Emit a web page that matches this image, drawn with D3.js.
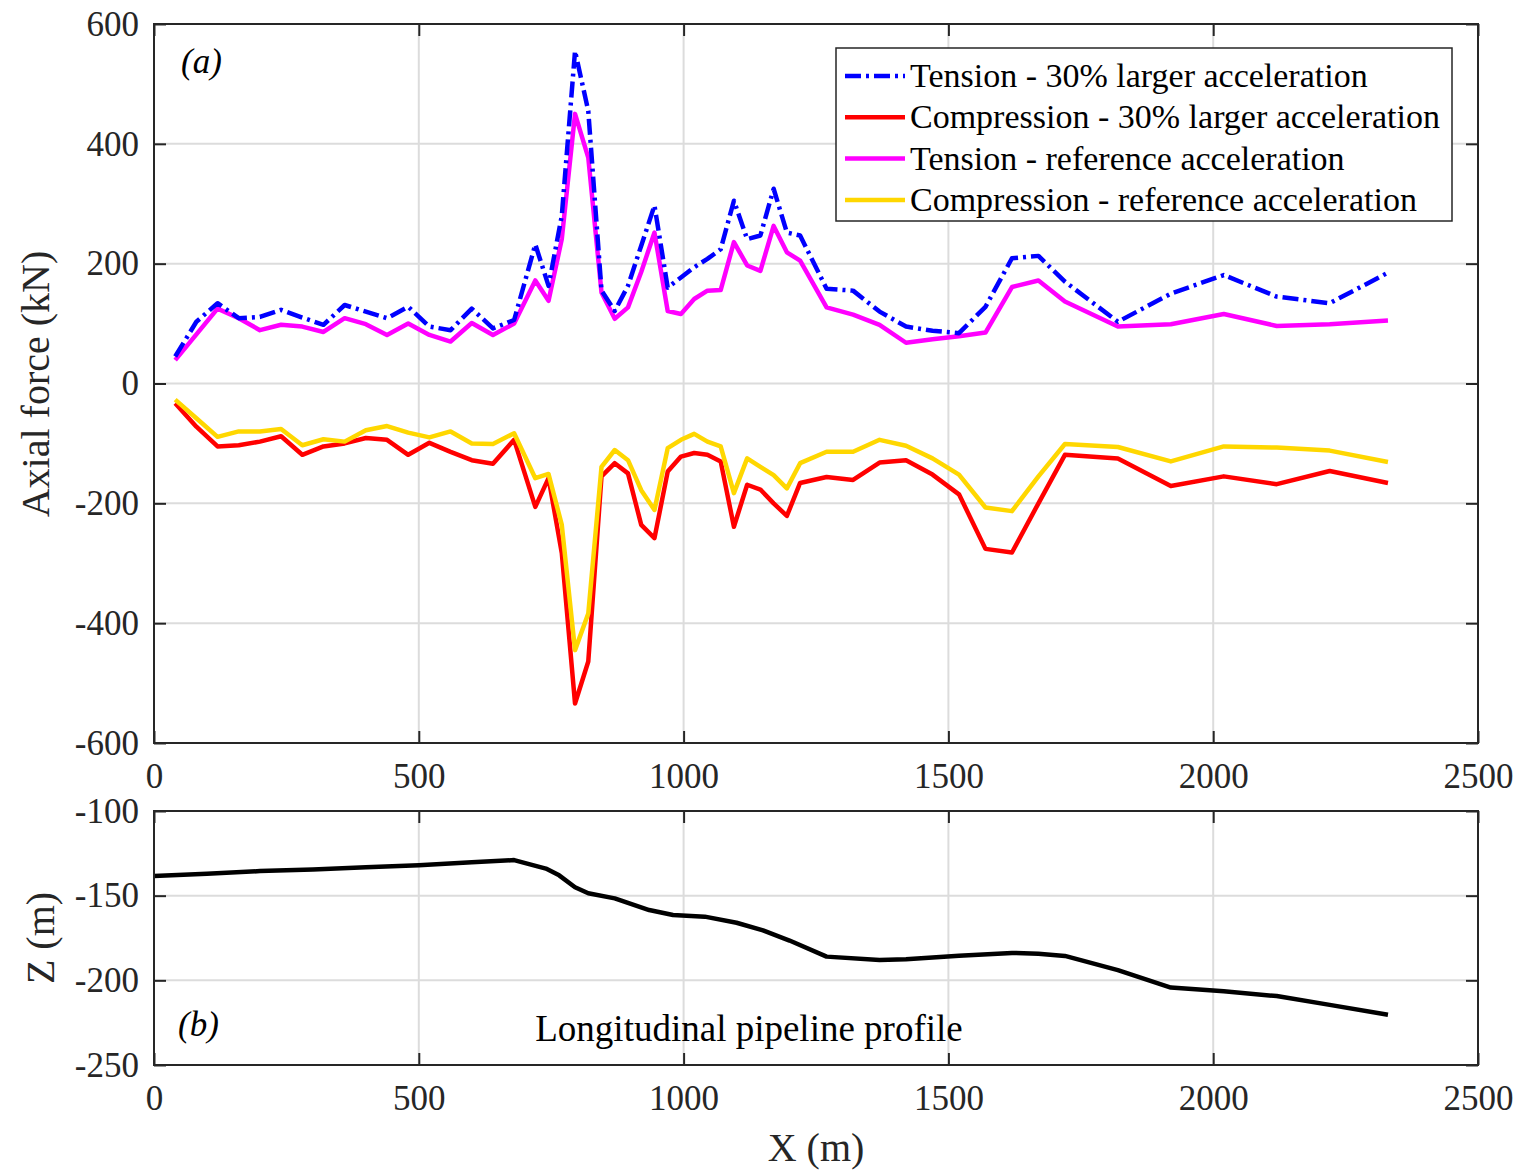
<!DOCTYPE html>
<html><head><meta charset="utf-8">
<script src="https://cdn.jsdelivr.net/npm/d3@7"></script>
<style>body{margin:0;background:#fff;} svg{display:block;font-family:"Liberation Serif","Times New Roman",serif;}</style>
</head><body>
<svg id="c" width="1525" height="1173"></svg>
<script>
// ---- Data (a): axial force along pipeline ----
const xA = [40,80,120,160,200,240,280,320,360,400,440,480,520,560,600,640,680,720,745,770,795,820,845,870,895,920,945,970,995,1020,1045,1070,1095,1120,1145,1170,1195,1220,1270,1320,1370,1420,1470,1520,1570,1620,1670,1720,1820,1920,2020,2120,2220,2330];
const tension30 = [45,103,134,109,111,123,110,98,131,120,109,128,95,89,125,92,106,232,163,280,555,455,155,121,163,230,297,160,177,194,208,224,305,241,247,325,252,247,158,155,120,95,88,84,128,209,213,170,103,150,181,145,134,185];
const compression30 = [-33,-72,-105,-103,-97,-88,-119,-105,-100,-91,-94,-119,-99,-114,-128,-134,-94,-206,-158,-283,-534,-464,-155,-133,-150,-236,-258,-147,-122,-116,-119,-130,-239,-169,-177,-200,-221,-166,-156,-161,-132,-128,-152,-185,-276,-282,-200,-119,-125,-171,-155,-168,-146,-166];
const tensionRef = [39,82,125,109,89,98,95,86,109,99,81,100,81,70,101,81,100,172,138,241,450,377,152,108,127,186,252,121,116,141,155,156,236,197,188,263,219,205,127,115,98,68,74,79,85,161,172,137,95,99,116,96,99,105];
const compressionRef = [-27,-58,-89,-80,-80,-76,-103,-93,-97,-78,-71,-82,-90,-80,-100,-101,-83,-158,-151,-236,-445,-384,-139,-111,-128,-178,-211,-108,-94,-84,-97,-105,-183,-125,-139,-153,-175,-133,-114,-114,-94,-104,-125,-152,-207,-213,-155,-101,-106,-130,-105,-107,-112,-131];
// ---- Data (b): longitudinal profile ----
const xB = [0,100,200,300,400,500,600,680,740,765,795,820,870,935,980,1040,1100,1150,1200,1270,1370,1420,1520,1620,1670,1720,1820,1920,2020,2120,2220,2330];
const zB = [-138.4,-137,-135.5,-134.5,-133.2,-132,-130.2,-129,-134,-138,-145,-148.6,-151.6,-158.5,-161.4,-162.4,-166,-170.5,-176.5,-186,-188,-187.6,-185.5,-183.8,-184.3,-185.6,-194,-204.3,-206.5,-209.3,-214.5,-220.3];
// ---- Ticks & labels ----
const xTicks = [0,500,1000,1500,2000,2500];
const yTicksA = [-600,-400,-200,0,200,400,600];
const yTicksB = [-250,-200,-150,-100];
const seriesNames = ["Tension - 30% larger acceleration","Compression - 30% larger acceleration","Tension - reference acceleration","Compression - reference acceleration"];
const seriesColors = ["#0000ff","#ff0000","#ff00ff","#ffd700"];

const svg = d3.select("#c");
const L = 154, R = 1478;
const x = d3.scaleLinear().domain([0,2500]).range([L,R]);
const yA = d3.scaleLinear().domain([-600,600]).range([743,24]);
const yB = d3.scaleLinear().domain([-250,-100]).range([1065,811]);
const FS = 35;
const fmt = d => String(d);

function panel(y, yTicks, top, bottom) {
  const g = svg.append("g");
  g.selectAll(".gx").data(xTicks).enter().append("line")
    .attr("x1", d=>x(d)).attr("x2", d=>x(d)).attr("y1", top).attr("y2", bottom)
    .attr("stroke", "#dcdcdc").attr("stroke-width", 2);
  g.selectAll(".gy").data(yTicks).enter().append("line")
    .attr("x1", L).attr("x2", R).attr("y1", d=>y(d)).attr("y2", d=>y(d))
    .attr("stroke", "#dcdcdc").attr("stroke-width", 2);
  return g;
}
function frame(y, yTicks, top, bottom) {
  const g = svg.append("g");
  const ax = (sel) => sel.call(s=>s.select(".domain").remove()).call(s=>s.selectAll("line").attr("stroke","#262626").attr("stroke-width",2));
  g.append("g").attr("transform",`translate(0,${bottom})`).call(d3.axisBottom(x).tickValues(xTicks).tickSize(-12).tickPadding(20).tickFormat(fmt)).call(ax);
  g.append("g").attr("transform",`translate(0,${top})`).call(d3.axisTop(x).tickValues(xTicks).tickSize(-12).tickFormat("")).call(ax);
  g.append("g").attr("transform",`translate(${L},0)`).call(d3.axisLeft(y).tickValues(yTicks).tickSize(-12).tickPadding(15).tickFormat(fmt)).call(ax);
  g.append("g").attr("transform",`translate(${R},0)`).call(d3.axisRight(y).tickValues(yTicks).tickSize(-12).tickFormat("")).call(ax);
  g.selectAll("text").attr("font-family","Liberation Serif").attr("font-size",FS).attr("fill","#262626");
  g.append("rect").attr("x",L).attr("y",top).attr("width",R-L).attr("height",bottom-top)
    .attr("fill","none").attr("stroke","#262626").attr("stroke-width",2);
}

// Panel (a)
panel(yA, yTicksA, 24, 743);
const lineA = (vals) => d3.line().x((d,i)=>x(xA[i])).y(d=>yA(d))(vals);
const seriesA = [tension30, compression30, tensionRef, compressionRef];
[1,3,2,0].forEach(k=>{
  svg.append("path").attr("d", lineA(seriesA[k])).attr("fill","none")
    .attr("stroke", seriesColors[k]).attr("stroke-width", 4.5).attr("stroke-linejoin","round")
    .attr("stroke-dasharray", k===0 ? "16,5,3,5" : null);
});
frame(yA, yTicksA, 24, 743);

// Legend
const lg = svg.append("g");
lg.append("rect").attr("x",836).attr("y",48).attr("width",616).attr("height",173)
  .attr("fill","#fff").attr("stroke","#262626").attr("stroke-width",1.5);
seriesNames.forEach((n,i)=>{
  const yy = 76 + i*41.3;
  lg.append("line").attr("x1",845).attr("x2",905).attr("y1",yy).attr("y2",yy)
    .attr("stroke",seriesColors[i]).attr("stroke-width",4.5)
    .attr("stroke-dasharray", i===0 ? "16,5,3,5" : null);
  lg.append("text").attr("x",910).attr("y",yy+11).attr("font-size",34).attr("fill","#000").text(n);
});
svg.append("text").attr("x",181).attr("y",73).attr("font-size",FS).attr("font-style","italic").text("(a)");

// Panel (b)
panel(yB, yTicksB, 811, 1065);
svg.append("path").attr("d", d3.line().x((d,i)=>x(xB[i])).y(d=>yB(d))(zB))
  .attr("fill","none").attr("stroke","#000").attr("stroke-width",4.5).attr("stroke-linejoin","round");
frame(yB, yTicksB, 811, 1065);
svg.append("text").attr("x",178).attr("y",1036).attr("font-size",FS).attr("font-style","italic").text("(b)");
svg.append("text").attr("x",749).attr("y",1041).attr("text-anchor","middle").attr("font-size",37).text("Longitudinal pipeline profile");

// Axis titles
svg.append("text").attr("transform","translate(49,384) rotate(-90)").attr("text-anchor","middle").attr("font-size",40).attr("fill","#262626").text("Axial force (kN)");
svg.append("text").attr("transform","translate(54,938) rotate(-90)").attr("text-anchor","middle").attr("font-size",40).attr("fill","#262626").text("Z (m)");
svg.append("text").attr("x",816).attr("y",1161).attr("text-anchor","middle").attr("font-size",40).attr("fill","#262626").text("X (m)");
</script>
</body></html>
